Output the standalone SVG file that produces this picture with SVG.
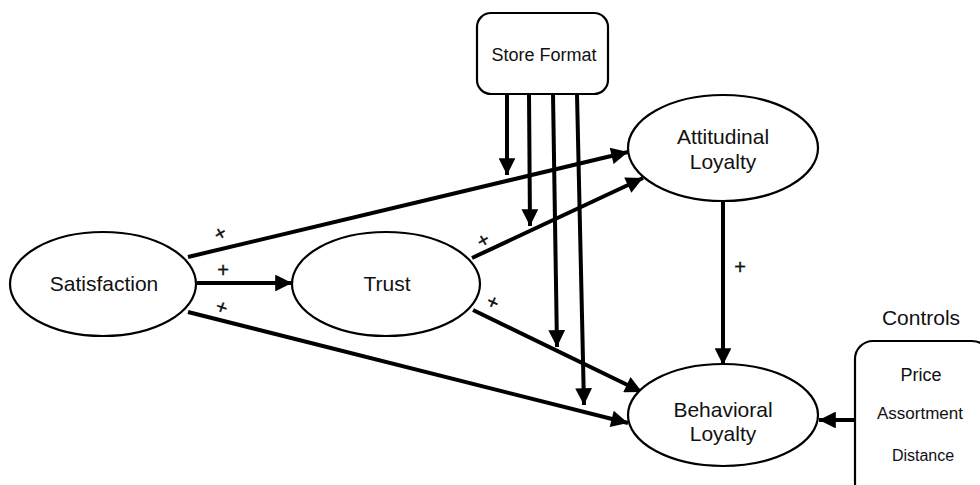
<svg xmlns="http://www.w3.org/2000/svg" width="980" height="485" viewBox="0 0 980 485">
  <style>
    .node { fill: #ffffff; stroke: #000000; stroke-width: 2.2; }
    .lbl { font-family: "Liberation Sans", Arial, sans-serif; fill: #111111; text-anchor: middle; }
    .big { font-size: 21px; }
    .mid { font-size: 18px; }
    .sign { font-family: "Liberation Sans", Arial, sans-serif; font-size: 20px; fill: #111111; stroke: #111111; stroke-width: 0.4; text-anchor: middle; }
    .edge { stroke: #000000; stroke-width: 4; fill: none; marker-end: url(#head); }
  </style>
  <defs>
    <marker id="head" viewBox="0 0 10 10" refX="10" refY="5" markerWidth="4.4" markerHeight="4.2" orient="auto" markerUnits="strokeWidth">
      <path d="M0,0 L10,5 L0,10 Z" fill="#000000"/>
    </marker>
  </defs>
  <rect width="980" height="485" fill="#ffffff"/>

  <!-- connectors -->
  <g id="connectors">
    <line class="edge" x1="188" y1="257" x2="628" y2="152"/>
    <line class="edge" x1="197" y1="283" x2="292" y2="283"/>
    <line class="edge" x1="188" y1="312" x2="628" y2="423"/>
    <line class="edge" x1="472" y1="258" x2="643" y2="178"/>
    <line class="edge" x1="473" y1="310" x2="642" y2="392"/>
    <line class="edge" x1="723" y1="202" x2="723" y2="365"/>
    <line class="edge" x1="855" y1="420" x2="819" y2="420"/>
    <line class="edge" x1="507" y1="94" x2="507" y2="175"/>
    <line class="edge" x1="529" y1="94" x2="530" y2="226"/>
    <line class="edge" x1="553" y1="94" x2="557" y2="347"/>
    <line class="edge" x1="577" y1="94" x2="584" y2="405"/>
  </g>

  <!-- path signs -->
  <g id="signs">
    <text class="sign" transform="translate(220,233) rotate(-30)" y="7">+</text>
    <text class="sign" x="223" y="277">+</text>
    <text class="sign" transform="translate(222,307) rotate(20)" y="7">+</text>
    <text class="sign" transform="translate(483,240) rotate(-30)" y="7">+</text>
    <text class="sign" transform="translate(493,302) rotate(25)" y="7">+</text>
    <text class="sign" x="740" y="274">+</text>
  </g>

  <g id="store-format">
    <rect class="node" x="477" y="13" width="131" height="81" rx="14"/>
    <text class="lbl mid" x="544" y="61">Store Format</text>
  </g>

  <g id="satisfaction">
    <ellipse class="node" cx="103" cy="284" rx="93" ry="52"/>
    <text class="lbl big" x="104" y="291">Satisfaction</text>
  </g>

  <g id="trust">
    <ellipse class="node" cx="386" cy="284" rx="94" ry="52"/>
    <text class="lbl big" x="387" y="291">Trust</text>
  </g>

  <g id="attitudinal-loyalty">
    <ellipse class="node" cx="723" cy="148" rx="95" ry="53"/>
    <text class="lbl big" x="723" y="144">Attitudinal</text>
    <text class="lbl big" x="723" y="169">Loyalty</text>
  </g>

  <g id="behavioral-loyalty">
    <ellipse class="node" cx="723" cy="415" rx="95" ry="51"/>
    <text class="lbl big" x="723" y="417">Behavioral</text>
    <text class="lbl big" x="723" y="441">Loyalty</text>
  </g>

  <g id="controls">
    <text class="lbl big" x="921" y="325">Controls</text>
    <rect class="node" x="855" y="341" width="135" height="160" rx="18"/>
    <text class="lbl mid" x="921" y="381">Price</text>
    <text class="lbl" style="font-size:17px" x="920" y="419">Assortment</text>
    <text class="lbl" style="font-size:16px" x="923" y="461">Distance</text>
  </g>
</svg>
